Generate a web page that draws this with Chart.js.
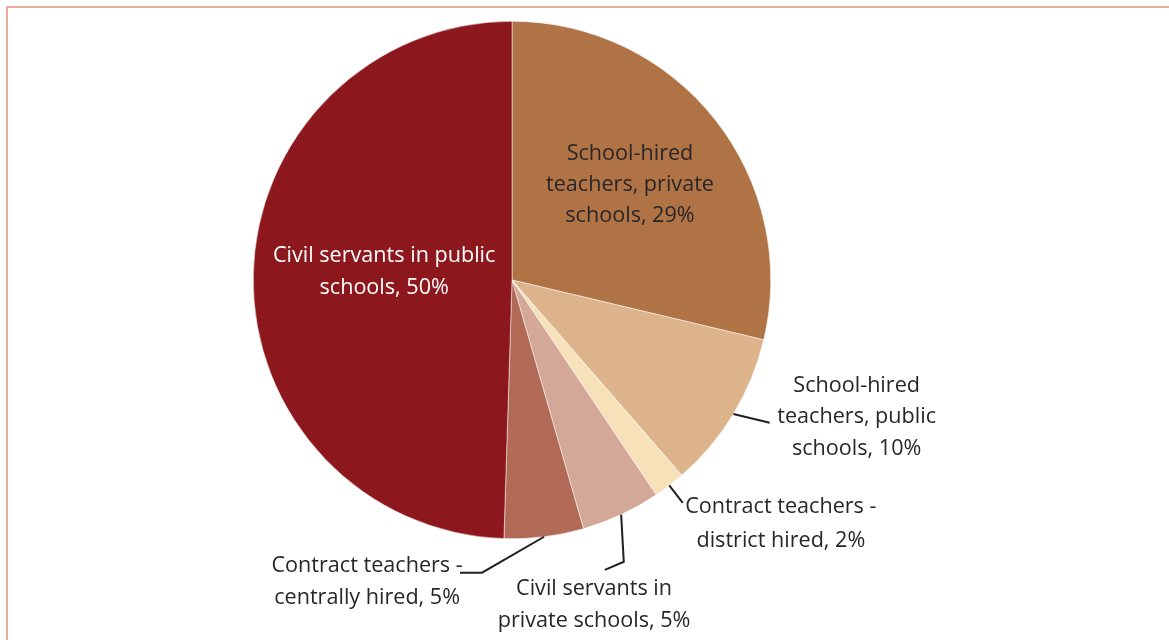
<!DOCTYPE html>
<html lang="en">
<head>
<meta charset="UTF-8" />
<title>Teacher employment types</title>
<script src="https://cdn.jsdelivr.net/npm/chart.js"></script>
<style>
  body {
    margin: 0;
    background: #fff;
    overflow: hidden;
  }
  .frame {
    position: absolute;
    left: 6px;
    top: 6px;
    width: 1200px;
    height: 700px;
    border: 2px solid #e8ab9c;
    box-sizing: border-box;
  }
  canvas {
    position: absolute;
    left: 0;
    top: 0;
  }
</style>
</head>
<body>
<div class="frame"></div>
<canvas id="pie" width="1169" height="640"></canvas>
<script>
// Teacher categories, clockwise from 12 o'clock
const categories = [
  "School-hired teachers, private schools",
  "School-hired teachers, public schools",
  "Contract teachers - district hired",
  "Civil servants in private schools",
  "Contract teachers - centrally hired",
  "Civil servants in public schools",
];
const shares = [29, 10, 2, 5, 5, 50];
const sliceColors = ["#b07346", "#dcb38b", "#f6e1b8", "#d4a898", "#b06a56", "#8c171c"];

// how each label wraps
const labelLines = [
  ["School-hired", "teachers, private", "schools, 29%"],
  ["School-hired", "teachers, public", "schools, 10%"],
  ["Contract teachers -", "district hired, 2%"],
  ["Civil servants in", "private schools, 5%"],
  ["Contract teachers -", "centrally hired, 5%"],
  ["Civil servants in public", "schools, 50%"],
];
const labelColors = ["#2a2627", "#2a2627", "#2a2627", "#2a2627", "#2a2627", "#ffffff"];
const lineGaps = [31, 31.5, 34, 32, 32, 32];

// label block centres, in pie radii from the pie centre
const labelAt = [[0.456, -0.367], [1.332, 0.529], [1.039, 0.942], [0.317, 1.255], [-0.56, 1.166], [-0.494, -0.031]];
// leader line bends (after the point on the rim), also in radii; null = label sits inside
const leaders = [
  null,
  [[0.996, 0.552]],
  [[0.66, 0.861]],
  [[0.432, 1.089], [0.359, 1.12]],
  [[-0.116, 1.131], [-0.201, 1.131]],
  null,
];

const sliceLabels = {
  id: "sliceLabels",
  afterDatasetsDraw(chart) {
    const ctx = chart.ctx;
    const arcs = chart.getDatasetMeta(0).data;
    ctx.save();
    arcs.forEach((arc, i) => {
      const { x, y, outerRadius, startAngle, endAngle } = arc.getProps(
        ["x", "y", "outerRadius", "startAngle", "endAngle"], true);
      const r = outerRadius;
      if (leaders[i]) {
        const mid = (startAngle + endAngle) / 2;
        ctx.beginPath();
        ctx.moveTo(x + Math.cos(mid) * r, y + Math.sin(mid) * r);
        leaders[i].forEach(([dx, dy]) => ctx.lineTo(x + dx * r, y + dy * r));
        ctx.strokeStyle = "#231f20";
        ctx.lineWidth = 2;
        ctx.stroke();
      }
      const lines = labelLines[i];
      const gap = lineGaps[i];
      const cx = x + labelAt[i][0] * r;
      const cy = y + labelAt[i][1] * r;
      ctx.font = "21.6px 'Open Sans'";
      ctx.fillStyle = labelColors[i];
      ctx.textAlign = "center";
      ctx.textBaseline = "middle";
      lines.forEach((t, k) => {
        ctx.fillText(t, cx, cy + (k - (lines.length - 1) / 2) * gap);
      });
    });
    ctx.restore();
  },
};

new Chart(document.getElementById("pie"), {
  type: "pie",
  data: {
    labels: categories,
    datasets: [{
      data: shares,
      backgroundColor: sliceColors,
      borderColor: "#ffffff",
      borderWidth: 0.5,
    }],
  },
  options: {
    responsive: false,
    animation: false,
    layout: { padding: { top: 21, bottom: 101, left: 253, right: 398 } },
    plugins: {
      legend: { display: false },
      tooltip: { enabled: false },
    },
  },
  plugins: [sliceLabels],
});
</script>
</body>
</html>
